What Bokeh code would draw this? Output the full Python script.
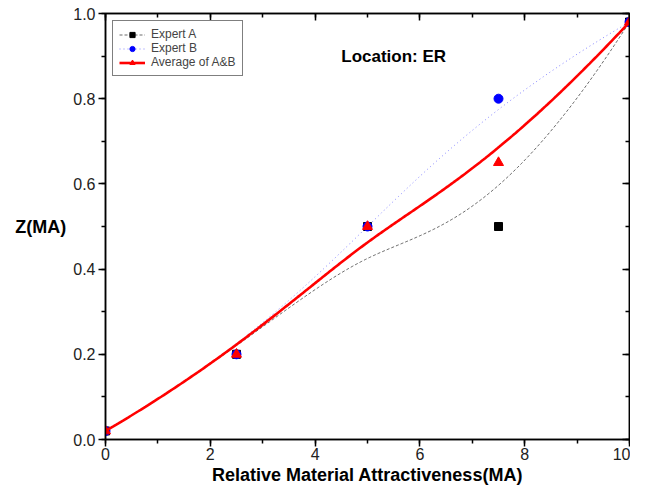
import numpy as np
from bokeh.plotting import figure
from bokeh.models import (Range1d, LinearAxis, Label, Legend, LegendItem,
                          SingleIntervalTicker, NumeralTickFormatter, CustomJSTickFormatter)
from bokeh.embed import file_html
from bokeh.resources import INLINE

# ---- data ----
ma = [0, 2.5, 5, 7.5, 10]
expert_a = [0.02, 0.2, 0.5, 0.5, 0.98]
expert_b = [0.02, 0.2, 0.5, 0.8, 0.98]
average_ab = [0.02, 0.2, 0.5, 0.65, 0.98]
labels = ["Expert A", "Expert B", "Average of A&B"]
title_text = "Location: ER"


def bspline(px, py, degree=3, samples=300):
    """Clamped uniform B-spline with the data points as control points
    (the smoothing used by the original plotting program)."""
    P = np.column_stack([px, py]).astype(float)
    n = len(P)
    m = n - degree
    knots = np.concatenate([np.zeros(degree), np.arange(m + 1), np.full(degree, m)]).astype(float)
    out = []
    for u in np.linspace(0, m, samples):
        k = int(np.searchsorted(knots, u, side="right") - 1)
        k = min(max(k, degree), n - 1)
        d = [P[j + k - degree].copy() for j in range(degree + 1)]
        for r in range(1, degree + 1):
            for j in range(degree, r - 1, -1):
                den = knots[j + 1 + k - r] - knots[j + k - degree]
                a = 0.0 if den == 0 else (u - knots[j + k - degree]) / den
                d[j] = (1 - a) * d[j - 1] + a * d[j]
        out.append(d[degree])
    out = np.array(out)
    return out[:, 0], out[:, 1]


FONT = "Liberation Sans"

p = figure(width=630, height=487, x_range=Range1d(0, 10), y_range=Range1d(0, 1),
           output_backend="svg", toolbar_location=None,
           min_border_left=105, min_border_right=1, min_border_top=13, min_border_bottom=48)
p.xgrid.visible = False
p.ygrid.visible = False
p.outline_line_color = "black"
p.outline_line_width = 1.5
p.background_fill_color = "white"
p.border_fill_color = "white"

xt = SingleIntervalTicker(interval=2, num_minor_ticks=2)
yt = SingleIntervalTicker(interval=0.2, num_minor_ticks=2)

for ax, t in ((p.xaxis[0], xt), (p.yaxis[0], yt)):
    ax.ticker = t
    ax.axis_line_width = 1.5
    ax.major_tick_line_width = 1.5
    ax.minor_tick_line_width = 1.5
    ax.major_tick_out = 7
    ax.major_tick_in = 0
    ax.minor_tick_out = 4
    ax.minor_tick_in = 0
    ax.major_label_text_font = FONT
    ax.major_label_text_font_size = "16px"
    ax.major_label_text_color = "#222222"
    ax.axis_label_text_font = FONT
    ax.axis_label_text_font_size = "18px"
    ax.axis_label_text_font_style = "bold"
    ax.axis_label_text_color = "black"

p.xaxis[0].axis_label = "Relative Material Attractiveness(MA)"
p.xaxis[0].major_label_standoff = 1
p.xaxis[0].axis_label_standoff = 2
p.yaxis[0].axis_label = "Z(MA)"
p.yaxis[0].axis_label_orientation = "horizontal"
p.yaxis[0].major_label_standoff = 3
p.yaxis[0].axis_label_standoff = 4
p.yaxis[0].formatter = NumeralTickFormatter(format="0.0")

blank = CustomJSTickFormatter(code="return ''")
top = LinearAxis(ticker=SingleIntervalTicker(interval=2, num_minor_ticks=2), formatter=blank,
                 major_tick_in=7, major_tick_out=0, minor_tick_in=4, minor_tick_out=0,
                 axis_line_width=1.5, major_tick_line_width=1.5, minor_tick_line_width=1.5,
                 major_label_standoff=0, major_label_text_font_size="0px")
right = LinearAxis(ticker=SingleIntervalTicker(interval=0.2, num_minor_ticks=2), formatter=blank,
                   major_tick_in=7, major_tick_out=0, minor_tick_in=4, minor_tick_out=0,
                   axis_line_width=1.5, major_tick_line_width=1.5, minor_tick_line_width=1.5,
                   major_label_standoff=0, major_label_text_font_size="0px")
p.add_layout(top, "above")
p.add_layout(right, "right")

# ---- series ----
ax_, ay_ = bspline(ma, expert_a)
bx_, by_ = bspline(ma, expert_b)
cx_, cy_ = bspline(ma, average_ab)

la = p.line(ax_, ay_, line_color="black", line_alpha=0.65, line_width=0.9, line_dash="3 2")
sa = p.scatter(ma, expert_a, marker="square", size=8, fill_color="black", line_color="black")
lb = p.line(bx_, by_, line_color="#3333ff", line_alpha=0.6, line_width=1, line_dash="1 3")
sb = p.scatter(ma, expert_b, marker="circle", size=9, fill_color="#0000ff", line_color="#0000ff")
lc = p.line(cx_, cy_, line_color="#ff0000", line_width=2.6)
sc = p.scatter(ma, average_ab, marker="triangle", size=10, fill_color="#ff0000", line_color="#ff0000")

legend = Legend(items=[LegendItem(label=labels[0], renderers=[la, sa]),
                       LegendItem(label=labels[1], renderers=[lb, sb]),
                       LegendItem(label=labels[2], renderers=[lc, sc])],
                location="top_left", margin=7, padding=6, spacing=0,
                glyph_width=26, glyph_height=13, label_height=13, label_standoff=6,
                label_text_font=FONT, label_text_font_size="12px",
                border_line_color="black", border_line_width=1,
                background_fill_color="white", background_fill_alpha=1)
p.add_layout(legend, "center")

p.add_layout(Label(x=5.5, y=0.9, text=title_text, text_font=FONT, text_font_size="17px",
                   text_font_style="bold", text_align="center", text_baseline="middle",
                   text_color="black"))

open("out.html", "w").write(file_html(p, INLINE))
